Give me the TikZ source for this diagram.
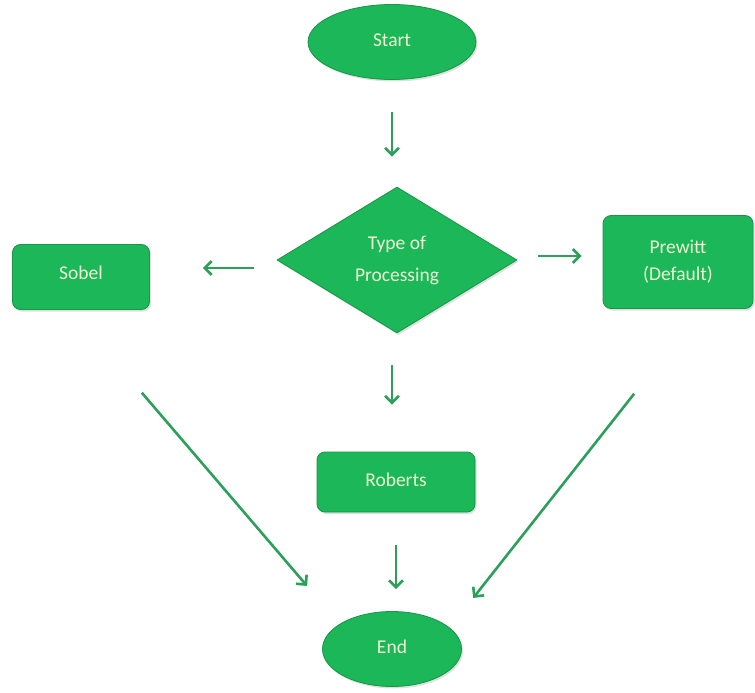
\documentclass[tikz,border=0pt]{standalone}
\usepackage{fontspec}
\setmainfont{Carlito}
\usetikzlibrary{shapes.geometric,arrows.meta,shadows}

\definecolor{boxgreen}{RGB}{27,183,88}
\definecolor{boxedge}{RGB}{22,150,70}
\definecolor{arrowgreen}{RGB}{44,160,90}
\definecolor{labeltext}{RGB}{238,246,212}

\tikzset{
  shapebase/.style={fill=boxgreen, draw=boxedge, line width=0.8pt,
    text=labeltext, font=\fontsize{19.5}{27}\selectfont, align=center,
    inner sep=0pt, drop shadow={opacity=0.25, shadow xshift=1.5pt, shadow yshift=-2pt}},
  terminal/.style={shapebase, ellipse, minimum width=#1, minimum height=75pt},
  procbox/.style={shapebase, rectangle, rounded corners=8pt},
  decision/.style={shapebase, diamond, minimum width=240pt, minimum height=146pt,
    font=\fontsize{19.5}{32}\selectfont},
  flow/.style={draw=arrowgreen, line width=2.6pt,
    -{Straight Barb[length=7pt, width=14pt, line width=2.6pt]}},
}

\begin{document}
\begin{tikzpicture}[x=1pt, y=-1pt]
  \useasboundingbox (0,0) rectangle (755,693);

  % shapes of the flowchart
  \node[terminal=168pt] (start) at (392,42) {\raisebox{3pt}{Start}};
  \node[decision] (dia) at (397,260) {Type of\\Processing};
  \node[procbox, minimum width=137pt, minimum height=65pt] (sobel) at (81,277) {\raisebox{9pt}{Sobel}};
  \node[procbox, minimum width=150pt, minimum height=93pt] (prewitt) at (678,262) {Prewitt\\(Default)};
  \node[procbox, minimum width=158pt, minimum height=60pt] (roberts) at (396,482) {\raisebox{5pt}{Roberts}};
  \node[terminal=139pt] (end) at (392,649) {\raisebox{4pt}{End}};

  % connectors, kept clear of the shapes
  \draw[flow, shorten <=32pt, shorten >=30pt] (start.south) -- (start.south |- dia.north);
  \draw[flow, shorten <=23pt, shorten >=53pt]
    ([yshift=-8pt]dia.west) -- ([yshift=-8pt]dia.west -| sobel.east);
  \draw[flow, shorten <=21pt, shorten >=21pt]
    ([yshift=4pt]dia.east) -- ([yshift=4pt]dia.east -| prewitt.west);
  \draw[flow, shorten <=32pt, shorten >=47pt]
    ([xshift=-5pt]dia.south) -- ([xshift=-5pt]dia.south |- roberts.north);
  \draw[flow, shorten <=33pt, shorten >=22pt]
    (roberts.south) -- (roberts.south |- end.north);
  \draw[flow, shorten <=109pt, shorten >=83pt]
    ([xshift=-10pt]sobel.south) -- ([xshift=-31pt]end.center);
  \draw[flow, shorten <=108pt, shorten >=65pt]
    ([xshift=23pt]prewitt.south) -- ([xshift=41pt]end.center);
\end{tikzpicture}
\end{document}
